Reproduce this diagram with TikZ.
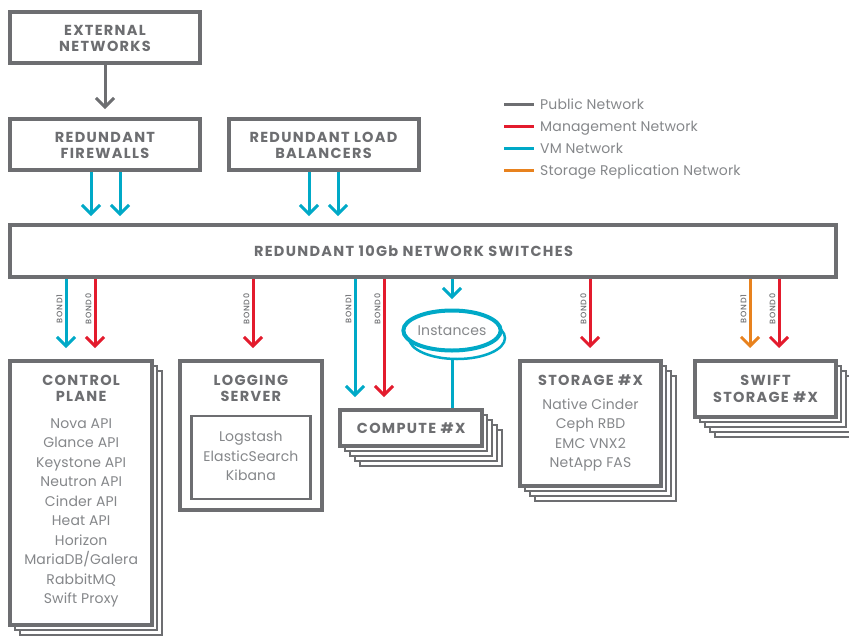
\documentclass[tikz,border=0pt]{standalone}
\usepackage{fontspec}
\setmainfont[LetterSpace=1]{Poppins}
\newfontfamily\titlefont[LetterSpace=9]{Poppins}
\newfontfamily\bondfont[LetterSpace=9]{Poppins Medium}
\usetikzlibrary{arrows.meta,shapes.geometric}
\definecolor{netgray}{HTML}{6D6E71}
\definecolor{netred}{HTML}{E31B2D}
\definecolor{netcyan}{HTML}{00A9C7}
\definecolor{netorange}{HTML}{E8821E}
\definecolor{listgray}{HTML}{85878A}
\tikzset{
  netbox/.style={draw=netgray, line width=4pt, fill=white, inner sep=0pt},
  backbox/.style={draw=netgray, line width=1.8pt, fill=white},
  listtext/.style={text=listgray, align=center, inner sep=0pt, font=\fontsize{14}{19.5}\selectfont},
  titletext/.style={text=netgray, align=center, inner sep=0pt, font=\titlefont\bfseries\fontsize{14.5}{16.5}\selectfont},
  bondtext/.style={text=netgray, rotate=90, inner sep=0pt, font=\bondfont\fontsize{8}{9}\selectfont},
  link/.style={line width=3pt, -{Straight Barb[length=9pt,width=18pt,line width=3pt]}},
  legendline/.style={line width=3pt},
}
\begin{document}
\begin{tikzpicture}[x=1pt,y=-1pt]
    \useasboundingbox (0,0) rectangle (849,635);
    \clip (0,0) rectangle (849,635);

    % Top row
    \node[netbox, minimum width=190pt, minimum height=51.5pt] (external) at (105,37.25) {};
    \node[titletext] (externalTitle) at (105,38.5) {EXTERNAL\\NETWORKS};
    \node[netbox, minimum width=190pt, minimum height=51.5pt] (firewalls) at (105,144.25) {};
    \node[titletext] (firewallsTitle) at (105,145.5) {REDUNDANT\\FIREWALLS};
    \node[netbox, minimum width=190pt, minimum height=51.5pt] (balancers) at (323.5,144.25) {};
    \node[titletext] (balancersTitle) at (323.5,145.5) {REDUNDANT LOAD\\BALANCERS};
    \node[netbox, minimum width=826pt, minimum height=51.5pt] (switches) at (423,251.2) {};
    \node[titletext] (switchesTitle) at (413.5,251.5) {REDUNDANT 10Gb NETWORK SWITCHES};

    % Stacked copies behind the servers
    \foreach \d in {10,5}
        \draw[backbox, shift={(\d,\d)}] (10.3,361.3) rectangle (152,624.7);
    \foreach \d in {20,15,10,5}
        \draw[backbox, shift={(\d,\d)}] (340.3,410.3) rectangle (482,446.3);
    \foreach \d in {15,10,5}
        \draw[backbox, shift={(\d,\d)}] (519.7,361.3) rectangle (661.3,486.3);
    \foreach \d in {20,15,10,5}
        \draw[backbox, shift={(\d,\d)}] (694.7,361.3) rectangle (836.3,417.3);

    % Servers
    \node[netbox, minimum width=141.7pt, minimum height=263.4pt] (control) at (81.15,493) {};
    \node[titletext] (controlTitle) at (81.15,388.5) {CONTROL\\PLANE};
    \node[listtext] (controlList) at (81.15,513) {Nova API\\Glance API\\Keystone API\\Neutron API\\Cinder API\\Heat API\\Horizon\\MariaDB/Galera\\RabbitMQ\\Swift Proxy};

    \node[netbox, minimum width=141.7pt, minimum height=149pt] (logging) at (250.85,435.8) {};
    \node[titletext] (loggingTitle) at (250.85,388.5) {LOGGING\\SERVER};
    \node[draw=netgray, line width=2.8pt, fill=white, minimum width=119pt, minimum height=83pt, inner sep=0pt] (loggingBox) at (250.85,457.5) {};
    \node[listtext] (loggingList) at (250.85,456) {Logstash\\ElasticSearch\\Kibana};

    \node[netbox, minimum width=141.7pt, minimum height=36pt] (compute) at (411.15,428.3) {};
    \node[titletext] (computeTitle) at (411.15,428.5) {COMPUTE \#X};

    \node[netbox, minimum width=141.6pt, minimum height=125pt] (storage) at (590.5,423.8) {};
    \node[titletext] (storageTitle) at (590.5,380.5) {STORAGE \#X};
    \node[listtext] (storageList) at (590.5,435) {Native Cinder\\Ceph RBD\\EMC VNX2\\NetApp FAS};

    \node[netbox, minimum width=141.6pt, minimum height=56pt] (swift) at (765.5,389.3) {};
    \node[titletext] (swiftTitle) at (765.5,389) {SWIFT\\STORAGE \#X};

    % Instances
    \draw[netcyan, line width=2.5pt, fill=white] (457,338) ellipse (48 and 21);
    \node[draw=netcyan, line width=4pt, fill=white, ellipse, minimum width=94pt, minimum height=40pt, inner sep=0pt,
        text=listgray, font=\fontsize{14}{16}\selectfont] (instances) at (452,330.5) {Instances};
    \coordinate (instancesBase) at (452,360);
    \draw[netcyan, line width=3pt] (instancesBase) -- (compute.north -| instancesBase);

    % Free ends of the arrows
    \coordinate (fwA) at (91,216);
    \coordinate (fwB) at (120,216);
    \coordinate (lbA) at (309,216);
    \coordinate (lbB) at (338,216);
    \coordinate (cpA) at (66,348);
    \coordinate (cpB) at (95,348);
    \coordinate (logA) at (253,348);
    \coordinate (cmA) at (355,397);
    \coordinate (cmB) at (384,397);
    \coordinate (vmA) at (452,299);
    \coordinate (stA) at (590,348);
    \coordinate (swA) at (750,348);
    \coordinate (swB) at (779,348);
    \coordinate (extA) at (105,109);

    % Arrows
    \draw[link, netgray] (external.south -| extA) -- (extA);
    \draw[link, netcyan] (firewalls.south -| fwA) -- (fwA);
    \draw[link, netcyan] (firewalls.south -| fwB) -- (fwB);
    \draw[link, netcyan] (balancers.south -| lbA) -- (lbA);
    \draw[link, netcyan] (balancers.south -| lbB) -- (lbB);
    \draw[link, netcyan] (switches.south -| cpA) -- (cpA);
    \draw[link, netred] (switches.south -| cpB) -- (cpB);
    \draw[link, netred] (switches.south -| logA) -- (logA);
    \draw[link, netcyan] (switches.south -| cmA) -- (cmA);
    \draw[link, netred] (switches.south -| cmB) -- (cmB);
    \draw[link, netcyan] (switches.south -| vmA) -- (vmA);
    \draw[link, netred] (switches.south -| stA) -- (stA);
    \draw[link, netorange] (switches.south -| swA) -- (swA);
    \draw[link, netred] (switches.south -| swB) -- (swB);

    % Bond labels
    \node[bondtext] (bondCpA) at (59.5,309) {BOND1};
    \node[bondtext] (bondCpB) at (88.5,309) {BOND0};
    \node[bondtext] (bondLog) at (246.5,309) {BOND0};
    \node[bondtext] (bondCmA) at (348.5,309) {BOND1};
    \node[bondtext] (bondCmB) at (377.5,309) {BOND0};
    \node[bondtext] (bondSt) at (583.5,309) {BOND0};
    \node[bondtext] (bondSwA) at (743.5,309) {BOND1};
    \node[bondtext] (bondSwB) at (772.5,309) {BOND0};

    % Legend
    \foreach \y/\col/\name/\txt in {104/netgray/pub/Public Network,126/netred/mgt/Management Network,148/netcyan/vm/VM Network,170/netorange/rep/Storage Replication Network} {
        \coordinate (\name Start) at (504,\y);
        \node[text=listgray, anchor=base west, inner sep=0pt, font=\fontsize{14}{16}\selectfont] (\name Label) at (540,\y+5) {\txt};
        \draw[legendline, \col] (\name Start) -- (534,\y);
    }
\end{tikzpicture}
\end{document}
